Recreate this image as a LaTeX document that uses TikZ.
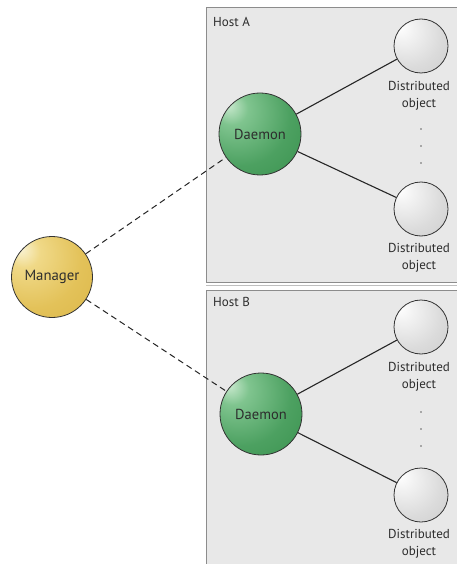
\documentclass[tikz,border=0pt]{standalone}
\usepackage{fontspec}
\setmainfont{PT Sans}
\pgfdeclareradialshading{greenball}{\pgfpoint{-20bp}{18bp}}{rgb(0bp)=(0.80,0.92,0.82); rgb(10bp)=(0.50,0.77,0.56); rgb(30bp)=(0.30,0.63,0.38); rgb(55bp)=(0.20,0.55,0.28); rgb(75bp)=(0.11,0.42,0.19)}
\pgfdeclareradialshading{goldball}{\pgfpoint{-20bp}{18bp}}{rgb(0bp)=(0.98,0.96,0.85); rgb(10bp)=(0.94,0.85,0.53); rgb(30bp)=(0.89,0.76,0.35); rgb(55bp)=(0.85,0.70,0.26); rgb(75bp)=(0.72,0.57,0.15)}
\pgfdeclareradialshading{grayball}{\pgfpoint{-20bp}{18bp}}{rgb(0bp)=(1,1,1); rgb(10bp)=(0.95,0.95,0.95); rgb(30bp)=(0.86,0.86,0.86); rgb(55bp)=(0.78,0.78,0.78); rgb(75bp)=(0.62,0.62,0.62)}
\definecolor{boxfill}{RGB}{232,232,232}
\definecolor{boxline}{RGB}{140,140,140}
\definecolor{txt}{RGB}{45,45,45}
\tikzset{
  hostbox/.style={fill=boxfill, draw=boxline, line width=0.9pt},
  daemon/.style={circle, minimum size=82pt, inner sep=0pt, draw=black!80, line width=0.8pt, shading=greenball, text=txt, font=\fontsize{14.5}{16}\selectfont},
  manager/.style={circle, minimum size=81pt, inner sep=0pt, draw=black!80, line width=0.8pt, shading=goldball, text=txt, font=\fontsize{14.8}{16}\selectfont},
  dobj/.style={circle, minimum size=54pt, inner sep=0pt, draw=black!80, line width=0.8pt, shading=grayball},
  dlabel/.style={align=center, text=txt, font=\fontsize{13}{17}\selectfont, inner sep=0pt},
  hostlabel/.style={anchor=west, text=txt, font=\fontsize{13}{15}\selectfont, inner sep=0pt},
  link/.style={line width=1.1pt, draw=black!85},
  dlink/.style={line width=1pt, draw=black!85, dash pattern=on 6pt off 4pt},
  dotmark/.style={circle, fill=black!60, inner sep=0pt, minimum size=1.6pt}
}
\begin{document}
\begin{tikzpicture}[x=1pt, y=-1pt]
\useasboundingbox (0,0) rectangle (457,564);
\clip (0,0) rectangle (457,564);
% host boxes
\draw[hostbox] (206,7) rectangle (470,282);
\draw[black!25, line width=0.8pt] (206,285.5) -- (470,285.5);
\draw[hostbox] (206,290) rectangle (470,580);
\node[hostlabel] (hA) at (213,22) {Host A};
\node[hostlabel] (hB) at (213,302) {Host B};
% nodes
\node[manager] (mgr) at (52,277) {Manager};
\node[daemon] (dA) at (260,134) {Daemon};
\node[daemon] (dB) at (261,414) {Daemon};
\node[dobj] (oA1) at (421,46) {};
\node[dobj] (oA2) at (421,209) {};
\node[dobj] (oB1) at (421,327) {};
\node[dobj] (oB2) at (421,495) {};
\node[dlabel] (lA1) at (419,96) {Distributed\\object};
\node[dlabel] (lA2) at (419,258) {Distributed\\object};
\node[dlabel] (lB1) at (419,377) {Distributed\\object};
\node[dlabel] (lB2) at (419,544) {Distributed\\object};
\node[dotmark] (dA1) at (421,129) {};
\node[dotmark] (dA2) at (421,146) {};
\node[dotmark] (dA3) at (421,163) {};
\node[dotmark] (dB1) at (421,412) {};
\node[dotmark] (dB2) at (421,429) {};
\node[dotmark] (dB3) at (421,446) {};
% connectors
\draw[dlink] (mgr) -- (dA);
\draw[dlink] (mgr) -- (dB);
\draw[link] (dA) -- (oA1);
\draw[link] (dA) -- (oA2);
\draw[link] (dB) -- (oB1);
\draw[link] (dB) -- (oB2);
\end{tikzpicture}
\end{document}
